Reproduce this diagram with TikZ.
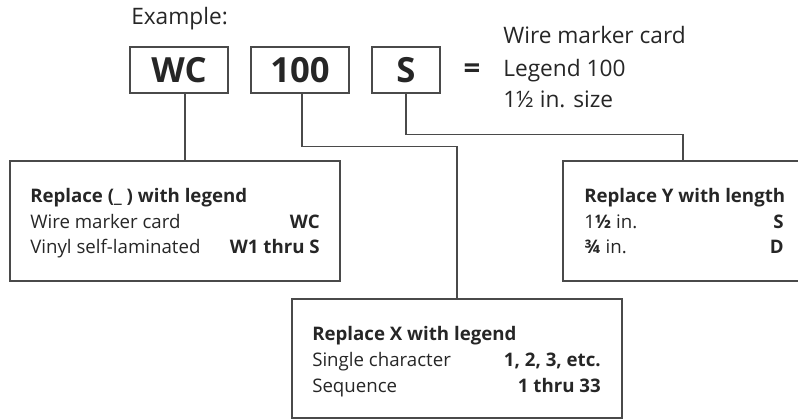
\documentclass[tikz,border=0pt]{standalone}
\usepackage{fontspec}
\setmainfont{Open Sans}
\usepackage{tikz}
\usetikzlibrary{positioning}

\definecolor{inktext}{HTML}{262626}
\definecolor{inkline}{HTML}{4A4A4A}

\tikzset{
  codebox/.style={draw=inkline, line width=1pt, inner sep=0pt, text=inktext,
    minimum height=34.5pt, font=\fontsize{26}{28}\selectfont\bfseries},
  legendbox/.style={draw=inkline, line width=1pt, inner sep=0pt,
    minimum width=247.5pt, minimum height=90pt},
  lead/.style={draw=inkline, line width=0.8pt},
  bodytxt/.style={inner sep=0pt, text=inktext, font=\fontsize{14}{16}\selectfont},
  boldtxt/.style={bodytxt, font=\fontsize{14}{16}\selectfont\bfseries},
  headtxt/.style={inner sep=0pt, text=inktext, font=\fontsize{17}{20}\selectfont},
}

\begin{document}
\begin{tikzpicture}[x=0.75pt, y=-0.75pt]
        \useasboundingbox (0,0) rectangle (798,419);
        \clip (0,0) rectangle (798,419);

        % The example code at the top
        \node (example) [headtxt, anchor=base west] at (131, 24) {Example:};
        \node (wc)   [codebox, minimum width=73.5pt] at (179, 70) {WC};
        \node (num)  [codebox, minimum width=73.5pt] at (300, 70) {100};
        \node (size) [codebox, minimum width=51pt]   at (406, 70) {S};
        \node (eq)   [headtxt, font=\fontsize{22}{22}\selectfont\bfseries] at (472, 71) {=};

        % What the example means
        \node (mean1) [headtxt, anchor=base west] at (503, 43)  {Wire marker card};
        \node (mean2) [headtxt, anchor=base west] at (503, 76)  {Legend 100};
        \node (mean3) [headtxt, anchor=base west] at (503, 107) {1½ in. size};

        % The three legend boxes (the right one runs off the page)
        \node (lbox) [legendbox] at (175, 221) {};
        \node (xbox) [legendbox, minimum height=89.25pt] at (457, 358.5) {};
        \node (ybox) [legendbox, minimum width=180pt] at (683, 221) {};

        % Left box: legend
        \node (lhead) [boldtxt, anchor=base west] at (30, 202) {Replace (\_ ) with legend};
        \node (lrow1) [bodytxt, anchor=base west] at (30, 228) {Wire marker card};
        \node (lrow2) [bodytxt, anchor=base west] at (30, 253) {Vinyl self-laminated};
        \node (lval1) [boldtxt, anchor=base east] at (320, 228) {WC};
        \node (lval2) [boldtxt, anchor=base east] at (320, 253) {W1 thru S};

        % Bottom box: X
        \node (xhead) [boldtxt, anchor=base west] at (312, 340) {Replace X with legend};
        \node (xrow1) [bodytxt, anchor=base west] at (312, 366) {Single character};
        \node (xrow2) [bodytxt, anchor=base west] at (312, 392) {Sequence};
        \node (xval1) [boldtxt, anchor=base east] at (601, 366) {1, 2, 3, etc.};
        \node (xval2) [boldtxt, anchor=base east] at (601, 392) {1 thru 33};

        % Right box: Y
        \node (yhead) [boldtxt, anchor=base west] at (584, 202) {Replace Y with length};
        \node (yrow1) [bodytxt, anchor=base west] at (584, 228) {1\textbf{½} in.};
        \node (yrow2) [bodytxt, anchor=base west] at (584, 253) {\textbf{¾} in.};
        \node (yval1) [boldtxt, anchor=base east] at (784, 228) {S};
        \node (yval2) [boldtxt, anchor=base east] at (784, 253) {D};

        % Leads from the code to the boxes
        \draw[lead] ([xshift=4.5pt]wc.south) -- ([xshift=4.5pt]wc.south |- lbox.north);
        \draw[lead] ([xshift=1.5pt]num.south) -- ++(0,53) -| (xbox.north);
        \draw[lead] (size.south) -- ++(0,41) -| (ybox.north);
\end{tikzpicture}
\end{document}
